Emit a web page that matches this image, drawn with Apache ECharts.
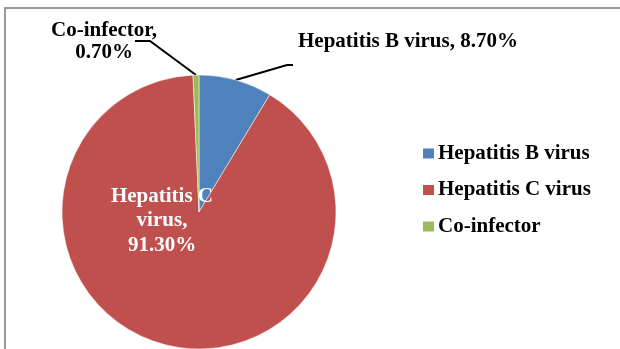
<!DOCTYPE html>
<html>
<head>
<meta charset="utf-8">
<script src="https://cdn.jsdelivr.net/npm/echarts@6/dist/echarts.min.js"></script>
<style>
  html, body { margin: 0; padding: 0; background: #fff; }
  #chart { width: 620px; height: 349px; }
</style>
</head>
<body>
<div id="chart"></div>
<script>
// 数据
var categories = ['Hepatitis B virus', 'Hepatitis C virus', 'Co-infector'];
var percents = [8.70, 91.30, 0.70];
var labelTexts = ['Hepatitis B virus, ', 'Hepatitis C\nvirus,\n', 'Co-infector,\n'];

var fontFamily = '"Liberation Serif", "Times New Roman", serif';

var myChart = echarts.init(document.getElementById('chart'));

var seriesData = categories.map(function (name, i) {
    var item = { name: name, value: percents[i] };
    if (i === 1) {
        item.label = { position: 'inside', color: '#fff', lineHeight: 24.5, align: 'center' };
        item.labelLine = { show: false };
    } else if (i === 2) {
        item.label = { lineHeight: 22, align: 'center' };
    }
    return item;
});

var option = {
    animation: false,
    color: ['#4f81bd', '#c0504d', '#9bbb59'],
    graphic: [{
        type: 'rect',
        shape: { x: 5, y: 8, width: 700, height: 500 },
        style: { fill: 'none', stroke: '#999', lineWidth: 2 },
        z: -1
    }],
    legend: {
        orient: 'vertical',
        left: 418,
        top: 138,
        itemWidth: 11,
        itemHeight: 10,
        itemGap: 15.5,
        icon: 'rect',
        itemStyle: { borderWidth: 0 },
        data: categories,
        textStyle: {
            fontFamily: fontFamily,
            fontWeight: 'bold',
            fontSize: 21,
            color: '#000',
            padding: [0, 0, 0, -1]
        }
    },
    series: [{
        type: 'pie',
        center: [199, 212],
        radius: 137,
        startAngle: 90,
        clockwise: true,
        avoidLabelOverlap: false,
        itemStyle: { borderColor: '#fff', borderWidth: 0.5 },
        label: {
            show: true,
            position: 'outside',
            fontFamily: fontFamily,
            fontWeight: 'bold',
            fontSize: 21,
            color: '#000',
            formatter: function (p) {
                return labelTexts[p.dataIndex] + p.value.toFixed(2) + '%';
            }
        },
        labelLine: {
            show: true,
            length: 20,
            length2: 6,
            lineStyle: { color: '#000', width: 2 }
        },
        labelLayout: function (params) {
            var p0 = params.labelLinePoints ? params.labelLinePoints[0] : null;
            if (params.dataIndex === 0) {
                var x = 298, y = 42;
                return {
                    x: x, y: y, align: 'left', verticalAlign: 'middle',
                    labelLinePoints: p0 ? [p0, [x - 11, y + 23], [x - 5, y + 23]] : undefined
                };
            }
            if (params.dataIndex === 1) {
                return { x: 162, y: 221, align: 'center', verticalAlign: 'middle' };
            }
            var x2 = 104, y2 = 42;
            return {
                x: x2, y: y2, align: 'center', verticalAlign: 'middle',
                labelLinePoints: p0 ? [p0, [x2 + 46, y2 - 1], [x2 + 31, y2 - 1]] : undefined
            };
        },
        data: seriesData
    }]
};
myChart.setOption(option);
</script>
</body>
</html>
